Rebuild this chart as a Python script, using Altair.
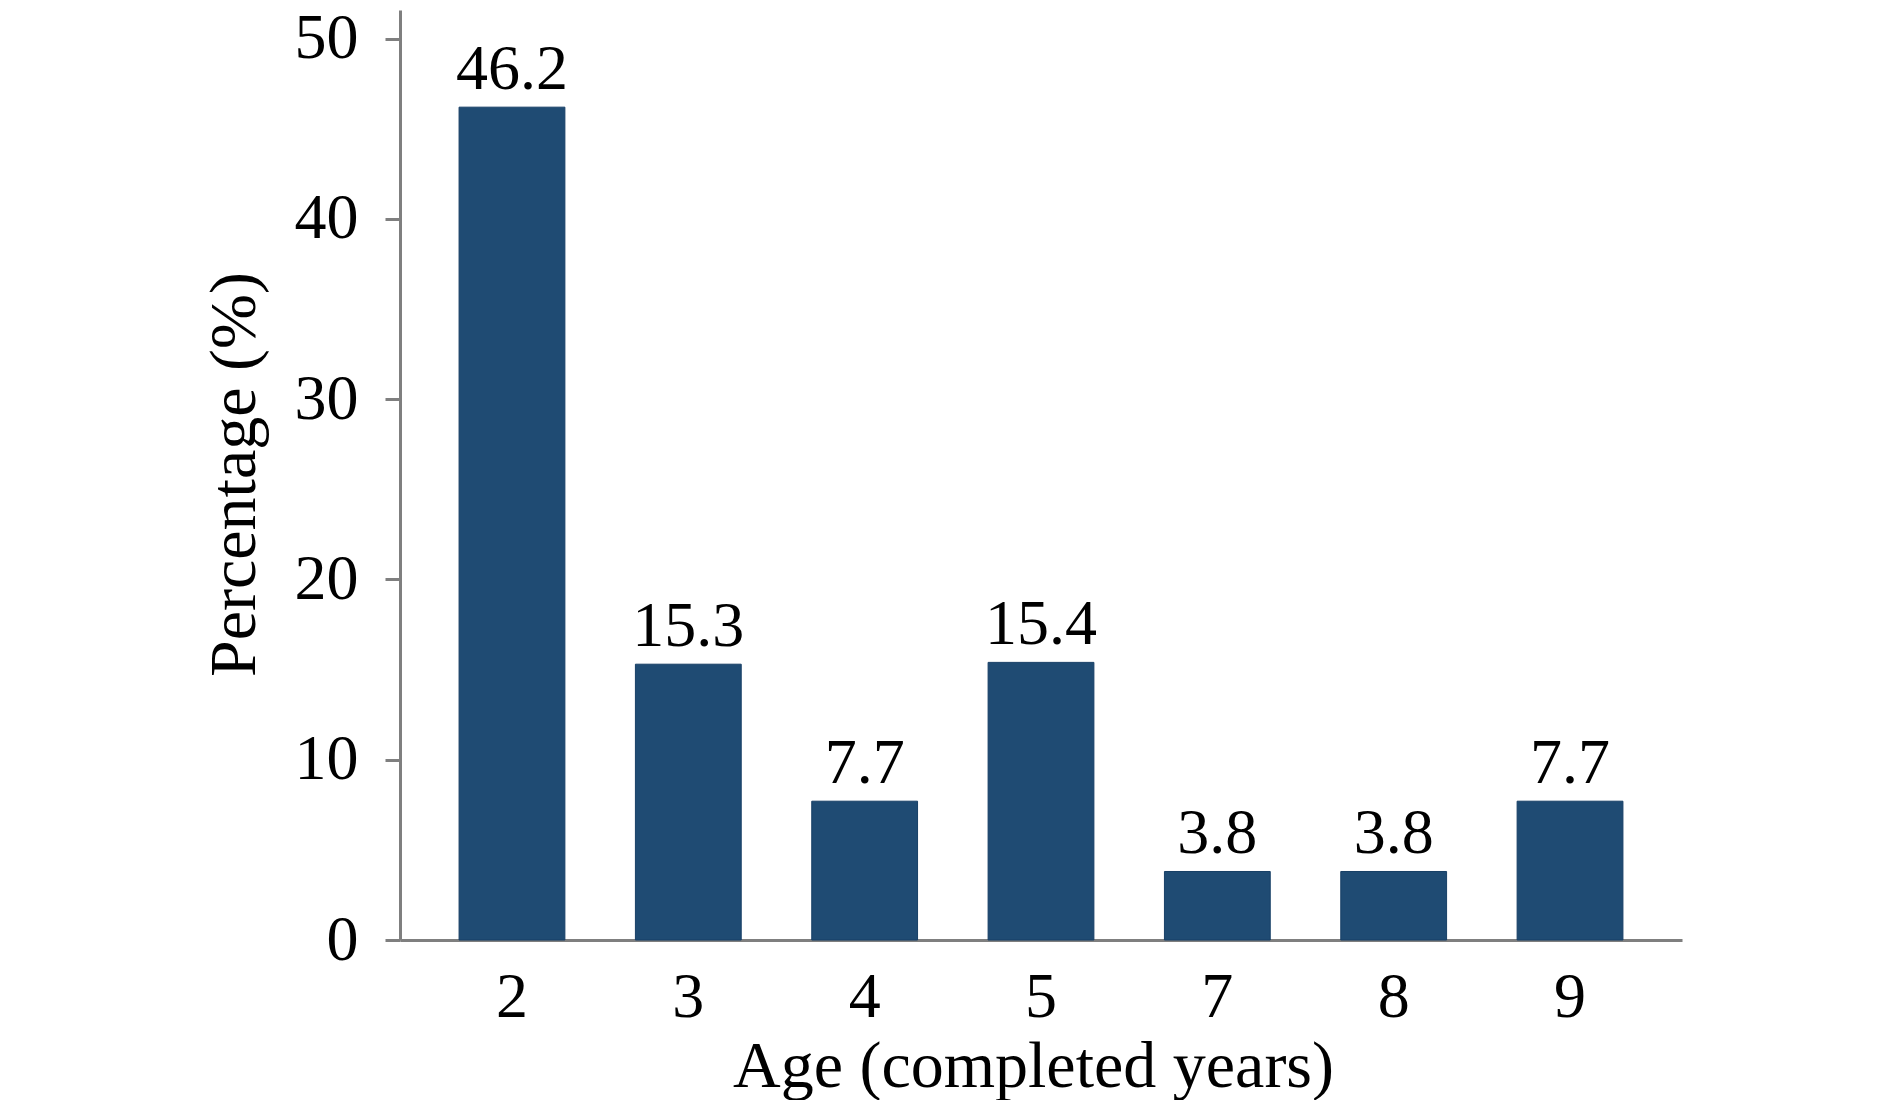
import altair as alt
import pandas as pd

ages = ["2", "3", "4", "5", "7", "8", "9"]
percentages = [46.2, 15.3, 7.7, 15.4, 3.8, 3.8, 7.7]
value_labels = ["46.2", "15.3", "7.7", "15.4", "3.8", "3.8", "7.7"]
y_ticks = [0, 10, 20, 30, 40, 50]

df = pd.DataFrame({"age": ages, "pct": percentages, "label": value_labels})

FONT = "Liberation Serif"
FS = 64
AXIS_GRAY = "#7f7f7f"

x = alt.X(
    "age:N",
    sort=ages,
    scale=alt.Scale(paddingInner=0.4, paddingOuter=0.335),
    axis=alt.Axis(
        title="Age (completed years)",
        labelAngle=0,
        ticks=False,
        labelPadding=76,
        labelBaseline="alphabetic",
        labelFont=FONT,
        labelFontSize=FS,
        labelColor="black",
        titleFont=FONT,
        titleFontSize=66,
        titleFontWeight="normal",
        titleColor="black",
        titleBaseline="alphabetic",
        titleAlign="center",
        titleX=633,
        titleY=146,
        domainColor=AXIS_GRAY,
        domainWidth=3,
    ),
)

y = alt.Y(
    "pct:Q",
    scale=alt.Scale(domain=[0, 51.59], nice=False),
    axis=alt.Axis(
        title="Percentage (%)",
        values=y_ticks,
        grid=False,
        tickSize=15,
        tickWidth=3,
        tickColor=AXIS_GRAY,
        labelPadding=27,
        labelFont=FONT,
        labelFontSize=FS,
        labelColor="black",
        titleFont=FONT,
        titleFontSize=66,
        titleFontWeight="normal",
        titleColor="black",
        titleAngle=-90,
        titleBaseline="alphabetic",
        titleAlign="center",
        titleX=-146,
        titleY=464,
        domainColor=AXIS_GRAY,
        domainWidth=3,
    ),
)

bars = alt.Chart(df).mark_bar(color="#1f4b73", stroke="#173f66", strokeWidth=1).encode(x=x, y=y)

labels = alt.Chart(df).mark_text(
    font=FONT, fontSize=FS, baseline="alphabetic", dy=-18, color="black"
).encode(x=alt.X("age:N", sort=ages), y=alt.Y("pct:Q"), text="label:N")

chart = (
    alt.layer(bars, labels)
    .properties(
        width=1282,
        height=930,
        autosize=alt.AutoSizeParams(type="none"),
        padding={"left": 392, "top": 2, "right": 200, "bottom": 160},
    )
    .configure(background="white")
    .configure_view(strokeWidth=0, stroke="transparent")
)

chart.save("out.html", embed_options={"renderer": "svg", "actions": False})
